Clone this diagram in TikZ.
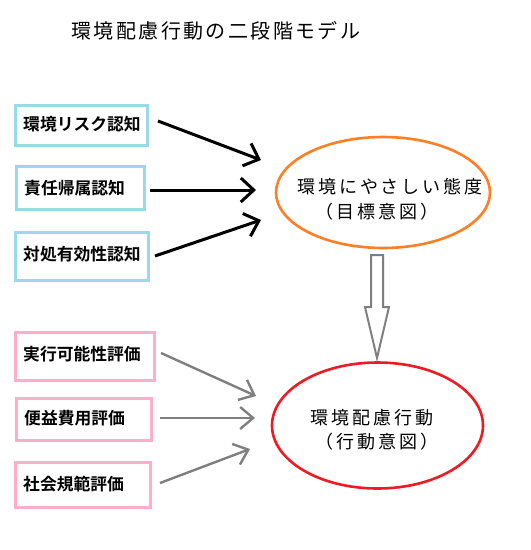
\documentclass[tikz,border=0pt]{standalone}
\usepackage{fontspec}
\usetikzlibrary{arrows.meta}
\newfontfamily\titlefont[LetterSpace=12]{Noto Sans CJK JP}
\newfontfamily\ellfont[LetterSpace=16]{Noto Sans CJK JP}
\newfontfamily\boxfont{Noto Sans CJK JP Bold}
\definecolor{pblue}{RGB}{153,217,234}
\definecolor{ppink}{RGB}{255,174,201}
\definecolor{porange}{RGB}{255,127,39}
\definecolor{pred}{RGB}{237,28,36}
\definecolor{pgray}{RGB}{127,127,127}
\tikzset{
  bluebox/.style={draw=pblue,line width=3pt,fill=white},
  pinkbox/.style={draw=ppink,line width=3pt,fill=white},
  boxtext/.style={anchor=west,inner sep=0pt,font=\boxfont\fontsize{16.8}{18}\selectfont},
  elltext/.style={inner sep=0pt,font=\ellfont\fontsize{18}{20}\selectfont},
  blackarrow/.style={black,line width=3pt,-{Straight Barb[length=13pt,width=24pt]}},
  grayarrow/.style={pgray,line width=2.4pt,-{Straight Barb[length=13pt,width=22pt]}},
}
\begin{document}
\begin{tikzpicture}[x=1pt,y=-1pt]
\useasboundingbox (0,0) rectangle (531,550);
\fill[white] (0,0) rectangle (531,550);
% title
\node[inner sep=0pt,font=\titlefont\fontsize{20}{22}\selectfont] (title) at (216,31) {環境配慮行動の二段階モデル};
% boxes
\draw[bluebox] (15,105) rectangle (147,145);
\node[boxtext] (t1) at (23,124) {環境リスク認知};
\draw[bluebox] (16,166) rectangle (144,209);
\node[boxtext] (t2) at (24,188) {責任帰属認知};
\draw[bluebox] (15,232) rectangle (148,280);
\node[boxtext] (t3) at (23,254) {対処有効性認知};
\draw[pinkbox] (15,332) rectangle (154,380);
\node[boxtext] (t4) at (23,354) {実行可能性評価};
\draw[pinkbox] (16,398) rectangle (151,440);
\node[boxtext] (t5) at (24,418) {便益費用評価};
\draw[pinkbox] (15,462) rectangle (150,507);
\node[boxtext] (t6) at (23,484) {社会規範評価};
% ellipses
\draw[porange,line width=2.6pt] (383,192.5) ellipse[x radius=107,y radius=55.5];
\node[elltext] (e1a) at (390,187) {環境にやさしい態度};
\node[elltext] (e1b) at (377,211.5) {（目標意図）};
\draw[pred,line width=2.6pt] (377.5,425.5) ellipse[x radius=105.5,y radius=63];
\node[elltext] (e2a) at (372,417.5) {環境配慮行動};
\node[elltext] (e2b) at (377,442) {（行動意図）};
% hollow arrow
\draw[pgray,line width=2pt,fill=white,line join=miter]
  (371,255) -- (383,255) -- (383,307) -- (389,307) -- (377,358) -- (365,307) -- (371,307) -- cycle;
% connectors
\coordinate (s1) at (158,121); \coordinate (e1) at (261,160);
\coordinate (s2) at (150,190); \coordinate (e2) at (256,190);
\coordinate (s3) at (155,256); \coordinate (e3) at (261,220);
\coordinate (s4) at (161,353); \coordinate (e4) at (256,396);
\coordinate (s5) at (160,418); \coordinate (e5) at (255,418);
\coordinate (s6) at (160,483); \coordinate (e6) at (250,449);
\draw[blackarrow] (s1) -- (e1);
\draw[blackarrow] (s2) -- (e2);
\draw[blackarrow] (s3) -- (e3);
\draw[grayarrow] (s4) -- (e4);
\draw[grayarrow] (s5) -- (e5);
\draw[grayarrow] (s6) -- (e6);
\end{tikzpicture}
\end{document}
